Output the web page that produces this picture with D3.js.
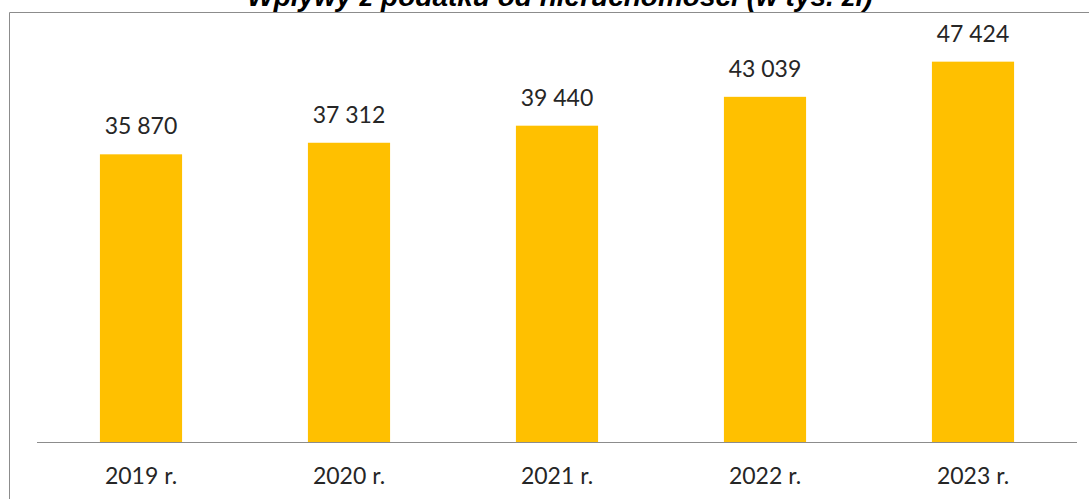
<!DOCTYPE html>
<html>
<head>
<meta charset="utf-8">
<script src="https://cdn.jsdelivr.net/npm/d3@7"></script>
<style>
  body { margin: 0; background: #fff; }
</style>
</head>
<body>
<div id="chart"></div>
<script>
const years = ['2019 r.', '2020 r.', '2021 r.', '2022 r.', '2023 r.'];
const values = [35870, 37312, 39440, 43039, 47424];
const title = 'Wpływy z podatku od nieruchomości (w tys. zł)';

const width = 1089, height = 499;
const margin = { left: 37, right: 12, top: 41, bottom: 57 };

const svg = d3.select('#chart')
    .append('svg')
    .attr('width', width)
    .attr('height', height);

// chart frame (only left and top edges visible in the crop)
svg.append('path')
    .attr('d', `M9.5,${height} V12.5 H${width}`)
    .attr('fill', 'none')
    .attr('stroke', '#8c8c8c')
    .attr('stroke-width', 1);

svg.append('text')
    .attr('x', 560)
    .attr('y', 6)
    .attr('text-anchor', 'middle')
    .attr('font-family', 'Liberation Sans, Arial, sans-serif')
    .attr('font-weight', 'bold')
    .attr('font-style', 'italic')
    .attr('font-size', '28px')
    .attr('fill', '#000')
    .text(title);

const x = d3.scaleBand()
    .domain(years)
    .range([margin.left, width - margin.right])
    .paddingInner(0.605)
    .paddingOuter(0.3025);

const y = d3.scaleLinear()
    .domain([0, 50000])
    .range([height - margin.bottom, margin.top]);

const fmt = v => d3.format(',')(v).replace(/,/g, ' ');

const g = svg.append('g');

g.selectAll('rect')
    .data(values)
    .enter()
    .append('rect')
    .attr('x', (d, i) => x(years[i]))
    .attr('y', d => y(d))
    .attr('width', x.bandwidth())
    .attr('height', d => y(0) - y(d))
    .attr('fill', '#ffc000');

g.selectAll('text.val')
    .data(values)
    .enter()
    .append('text')
    .attr('class', 'val')
    .attr('x', (d, i) => x(years[i]) + x.bandwidth() / 2)
    .attr('y', d => y(d) - 20)
    .attr('text-anchor', 'middle')
    .attr('font-family', 'Lato, Carlito, sans-serif')
    .attr('font-size', '23px')
    .attr('fill', '#262626')
    .text(d => fmt(d));

// x axis
const xAxis = svg.append('g')
    .attr('transform', `translate(0,${y(0)})`)
    .call(d3.axisBottom(x).tickSize(0).tickPadding(26));

xAxis.select('.domain')
    .attr('stroke', '#8c8c8c')
    .attr('d', `M${margin.left},0.5H${width - margin.right}`);

xAxis.selectAll('text')
    .attr('font-family', 'Lato, Carlito, sans-serif')
    .attr('font-size', '23px')
    .attr('fill', '#262626');
</script>
</body>
</html>
